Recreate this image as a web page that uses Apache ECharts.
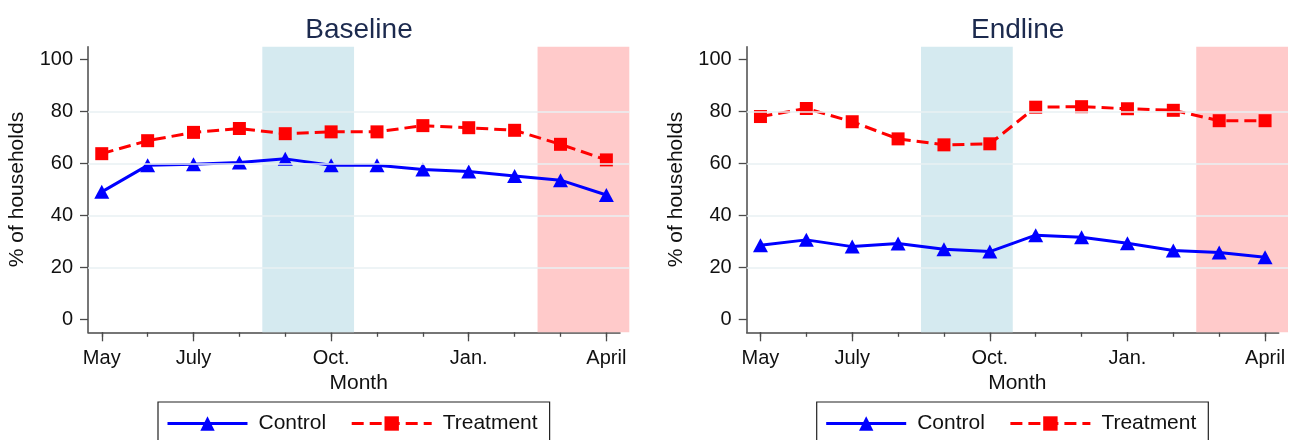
<!DOCTYPE html>
<html>
<head>
<meta charset="utf-8">
<script src="https://cdn.jsdelivr.net/npm/echarts@6/dist/echarts.min.js"></script>
<style>
  html, body { margin: 0; padding: 0; background: #ffffff; }
  #chart { width: 1295px; height: 440px; }
</style>
</head>
<body>
<div id="chart"></div>
<script>
// ---------------- data ----------------
const months = ['May', 'June', 'July', 'Aug.', 'Sep.', 'Oct.', 'Nov.', 'Dec.', 'Jan.', 'Feb.', 'Mar.', 'April'];
const labelledMonths = [0, 2, 5, 8, 11];           // months that carry a tick label
const panelTitles = ['Baseline', 'Endline'];
const seriesNames = ['Control', 'Treatment'];

const baselineControl   = [49.1, 59.3, 59.7, 60.4, 61.8, 59.3, 59.3, 57.7, 56.9, 55.2, 53.6, 47.9];
const baselineTreatment = [63.8, 68.8, 72.0, 73.5, 71.5, 72.2, 72.2, 74.6, 73.8, 72.8, 67.4, 61.4];
const endlineControl    = [28.5, 30.6, 28.0, 29.2, 27.0, 26.1, 32.4, 31.6, 29.3, 26.5, 25.7, 23.9];
const endlineTreatment  = [78.1, 81.2, 76.1, 69.5, 67.2, 67.6, 81.7, 81.9, 81.1, 80.5, 76.5, 76.5];

const yTicks = [0, 20, 40, 60, 80, 100];
const gridValues = [20, 40, 60, 80];
const blueSeason = [3.5, 5.5];   // shaded band (month index range)
const pinkSeason = [9.5, 11.5];

// ---------------- layout / style ----------------
const FONT = '"Liberation Sans", Arial, Helvetica, sans-serif';
const AXIS_COLOR = '#4a4a4a';
const PANEL_DX = 658.7;
const G = { left: 88, top: 46.7, width: 541.3, height: 285.6 };
const AXIS_LINE_W = 532;
const X_MIN = -0.3, X_MAX = 11.5, X_LINE_MAX = 11.3;
const Y_MIN = -5, Y_MAX = 105;

const toPairs = arr => arr.map((v, i) => [i, v]);

const panels = [
  { control: baselineControl, treatment: baselineTreatment },
  { control: endlineControl, treatment: endlineTreatment }
];

const option = {
  animation: false,
  backgroundColor: '#ffffff',
  textStyle: { fontFamily: FONT },
  title: [], legend: [], grid: [], xAxis: [], yAxis: [], series: []
};

panels.forEach((p, k) => {
  const dx = k * PANEL_DX;
  const gi = k * 2;       // plot grid
  const ai = k * 2 + 1;   // axis-line grid (x axis line ends before the shading)
  option.title.push({
    text: panelTitles[k],
    left: 354 + dx, top: 11, textAlign: 'center',
    textStyle: { fontFamily: FONT, fontSize: 28, fontWeight: 'normal', color: '#1c2a4e' }
  });
  option.legend.push({
    data: seriesNames,
    left: 158 + dx, top: 402,
    orient: 'horizontal',
    itemWidth: 80, itemHeight: 18, itemGap: 24,
    padding: [11, 12, 10, 8],
    borderColor: '#222', borderWidth: 1.2, borderRadius: 0,
    backgroundColor: '#fff',
    lineStyle: { width: 3 },
    textStyle: { fontFamily: FONT, fontSize: 21, color: '#111', padding: [0, 0, 0, 6] }
  });
  option.grid.push({ left: G.left + dx, top: G.top, width: G.width, height: G.height });
  option.grid.push({ left: G.left + dx, top: G.top, width: AXIS_LINE_W, height: G.height });

  // main x axis: labels + long ticks
  option.xAxis.push({
    gridIndex: gi, type: 'value', min: X_MIN, max: X_MAX, position: 'bottom',
    axisLine: { show: false, onZero: false },
    axisTick: { show: true, length: 9, customValues: labelledMonths, lineStyle: { color: AXIS_COLOR, width: 1.3 } },
    axisLabel: {
      show: true, customValues: labelledMonths, margin: 16,
      formatter: v => months[Math.round(v)],
      fontFamily: FONT, fontSize: 20, color: '#111'
    },
    splitLine: { show: false },
    name: 'Month', nameLocation: 'middle', nameGap: 38,
    nameTextStyle: { fontFamily: FONT, fontSize: 21, color: '#111' }
  });
  // axis-line grid x axis: the line itself and short ticks at every month
  option.xAxis.push({
    gridIndex: ai, type: 'value', min: X_MIN, max: X_LINE_MAX, position: 'bottom',
    axisLine: { show: true, onZero: false, lineStyle: { color: AXIS_COLOR, width: 1.5 } },
    axisTick: { show: true, length: 4.5, customValues: months.map((m, i) => i), lineStyle: { color: AXIS_COLOR, width: 1.3 } },
    axisLabel: { show: false },
    splitLine: { show: false }
  });
  option.yAxis.push({
    gridIndex: gi, type: 'value', min: Y_MIN, max: Y_MAX,
    axisLine: { show: true, onZero: false, lineStyle: { color: AXIS_COLOR, width: 1.5 } },
    axisTick: { show: true, length: 8, customValues: yTicks, lineStyle: { color: AXIS_COLOR, width: 1.3 } },
    axisLabel: { show: true, customValues: yTicks, margin: 15, fontFamily: FONT, fontSize: 20, color: '#111' },
    splitLine: { show: false },
    name: '% of households', nameLocation: 'middle', nameGap: 60,
    nameTextStyle: { fontFamily: FONT, fontSize: 21, color: '#111' }
  });
  option.yAxis.push({
    gridIndex: ai, type: 'value', min: Y_MIN, max: Y_MAX, show: false
  });

  // gridlines (under the shading)
  option.series.push({
    name: '_grid' + k, type: 'line', xAxisIndex: gi, yAxisIndex: gi, z: 1,
    data: toPairs(p.treatment), symbol: 'none', silent: true,
    lineStyle: { opacity: 0, width: 0 },
    markLine: {
      silent: true, symbol: 'none', label: { show: false },
      lineStyle: { color: '#e9f1f3', width: 1.5, type: 'solid' },
      data: gridValues.map(v => ({ yAxis: v }))
    }
  });
  // season shading
  option.series.push({
    name: '_band' + k, type: 'line', xAxisIndex: gi, yAxisIndex: gi, z: 2,
    data: toPairs(p.treatment), symbol: 'none', silent: true,
    lineStyle: { opacity: 0, width: 0 },
    markArea: {
      silent: true, label: { show: false },
      data: [
        [{ xAxis: blueSeason[0], itemStyle: { color: '#d5eaf0', opacity: 1 } }, { xAxis: blueSeason[1] }],
        [{ xAxis: pinkSeason[0], itemStyle: { color: '#ffcaca', opacity: 1 } }, { xAxis: pinkSeason[1] }]
      ]
    }
  });
  option.series.push({
    name: 'Control', type: 'line', xAxisIndex: gi, yAxisIndex: gi, z: 4,
    data: toPairs(p.control),
    symbol: 'triangle', symbolSize: [15, 14],
    itemStyle: { color: '#0000ff' },
    lineStyle: { color: '#0000ff', width: 3, type: 'solid' }
  });
  option.series.push({
    name: 'Treatment', type: 'line', xAxisIndex: gi, yAxisIndex: gi, z: 3,
    data: toPairs(p.treatment),
    symbol: 'rect', symbolSize: 13,
    itemStyle: { color: '#ff0000' },
    lineStyle: { color: '#ff0000', width: 3, type: [12, 6] }
  });
});

const chart = echarts.init(document.getElementById('chart'), null, { renderer: 'canvas' });
chart.setOption(option);
</script>
</body>
</html>
